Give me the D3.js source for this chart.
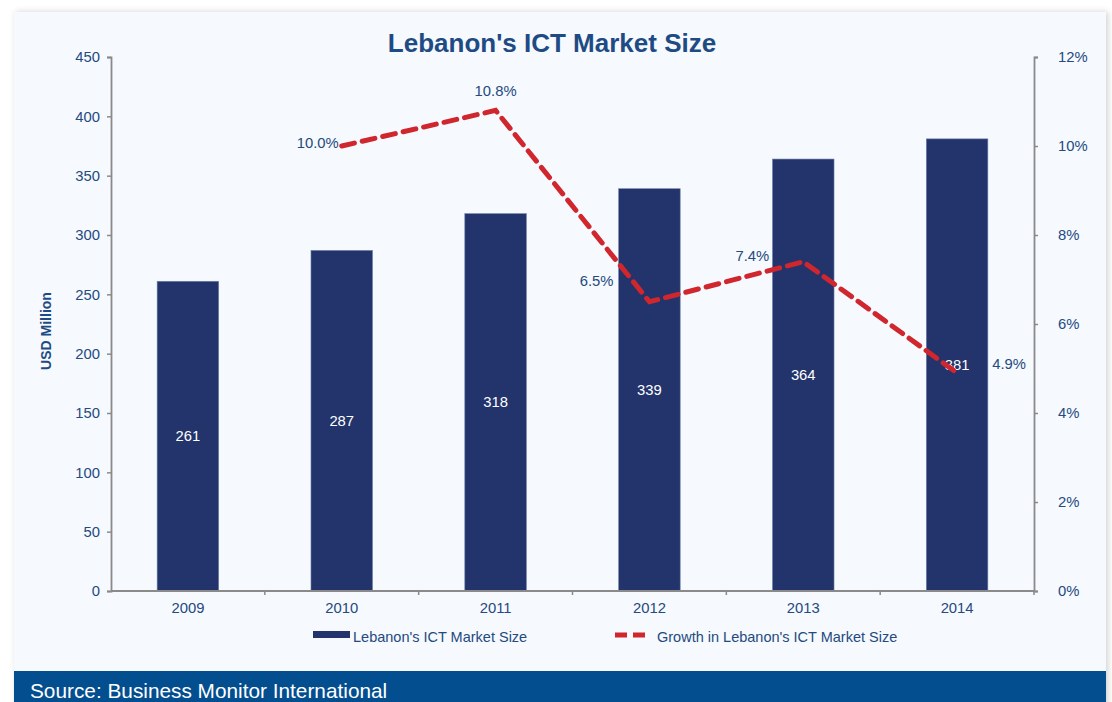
<!DOCTYPE html>
<html>
<head>
<meta charset="utf-8">
<script src="https://cdn.jsdelivr.net/npm/d3@7"></script>
<style>
  html, body { margin: 0; padding: 0; background: #ffffff; }
  svg { display: block; font-family: "Liberation Sans", Arial, sans-serif; }
</style>
</head>
<body>
<svg id="chart" width="1112" height="702"></svg>
<script>
const years = ["2009", "2010", "2011", "2012", "2013", "2014"];
const marketSize = [261, 287, 318, 339, 364, 381];
const growthYears = ["2010", "2011", "2012", "2013", "2014"];
const growth = [10.0, 10.8, 6.5, 7.4, 4.9];
const growthLabels = ["10.0%", "10.8%", "6.5%", "7.4%", "4.9%"];
const leftTicks = [0, 50, 100, 150, 200, 250, 300, 350, 400, 450];
const rightTicks = [0, 2, 4, 6, 8, 10, 12];

const svg = d3.select("#chart");
const textColor = "#244a80";
const barColor = "#22346b";
const lineColor = "#d0262d";
const axisColor = "#8a8a8a";
const fs = 14.8;

// panel with shadow
const defs = svg.append("defs");
const f = defs.append("filter").attr("id", "shadow").attr("x", "-5%").attr("y", "-5%").attr("width", "110%").attr("height", "110%");
f.append("feDropShadow").attr("dx", 2).attr("dy", 0).attr("stdDeviation", 3).attr("flood-color", "#000").attr("flood-opacity", 0.18);
svg.append("rect").attr("x", 14).attr("y", 12).attr("width", 1092).attr("height", 700)
  .attr("fill", "#f6f9fd").attr("filter", "url(#shadow)");

// source bar
svg.append("rect").attr("x", 14).attr("y", 671).attr("width", 1092).attr("height", 40).attr("fill", "#034e8f");
svg.append("text").attr("x", 30).attr("y", 698).attr("fill", "#ffffff")
  .attr("font-size", 20.8).text("Source: Business Monitor International");

// scales
const x = d3.scaleBand().domain(years).range([111, 1034]).paddingInner(0.6).paddingOuter(0.3);
const xb = d3.scaleBand().domain(years).range([111, 1034]);
const yL = d3.scaleLinear().domain([0, 450]).range([591, 57]);
const yR = d3.scaleLinear().domain([0, 12]).range([591, 57]);

// title
svg.append("text").attr("x", 552).attr("y", 52).attr("text-anchor", "middle")
  .attr("font-size", 26).attr("font-weight", "bold").attr("fill", "#1f4b85")
  .text("Lebanon's ICT Market Size");

// y axis title
svg.append("text").attr("transform", "translate(51,331) rotate(-90)")
  .attr("text-anchor", "middle").attr("font-size", 14).attr("font-weight", "bold")
  .attr("fill", "#1f4b85").text("USD Million");

// bars
svg.append("g").selectAll("rect").data(years).join("rect")
  .attr("x", d => x(d)).attr("width", x.bandwidth())
  .attr("y", (d, i) => yL(marketSize[i]))
  .attr("height", (d, i) => yL(0) - yL(marketSize[i]))
  .attr("fill", barColor).attr("stroke", "#6f7fa8").attr("stroke-width", 0.6);

// bar value labels
svg.append("g").selectAll("text").data(years).join("text")
  .attr("x", d => x(d) + x.bandwidth() / 2)
  .attr("y", (d, i) => (yL(marketSize[i]) + yL(0)) / 2 + 5)
  .attr("text-anchor", "middle").attr("fill", "#ffffff").attr("font-size", fs)
  .text((d, i) => marketSize[i]);

// left axis
const gL = svg.append("g").attr("transform", "translate(111,0)")
  .call(d3.axisLeft(yL).tickValues(leftTicks).tickSize(4).tickPadding(7));
// right axis
const gR = svg.append("g").attr("transform", "translate(1034,0)")
  .call(d3.axisRight(yR).tickValues(rightTicks).tickSize(4).tickPadding(20).tickFormat(d => d + "%"));
// bottom axis
const gB = svg.append("g").attr("transform", "translate(0,591)")
  .call(d3.axisBottom(x).tickSize(0).tickPadding(11));
[gL, gR, gB].forEach(g => {
  g.select(".domain").attr("stroke", axisColor).attr("stroke-width", 1.8);
  g.selectAll(".tick line").attr("stroke", axisColor).attr("stroke-width", 1.5);
  g.selectAll(".tick text").attr("fill", textColor).attr("font-size", fs)
    .attr("font-family", "Liberation Sans, Arial, sans-serif");
});
gB.select(".domain").attr("d", "M111,0H1034");
// category boundary ticks on x axis
svg.append("g").selectAll("line").data(years.slice(1).concat(["end"])).join("line")
  .attr("x1", d => d === "end" ? 1034 : xb(d)).attr("x2", d => d === "end" ? 1034 : xb(d))
  .attr("y1", 591).attr("y2", 595).attr("stroke", axisColor).attr("stroke-width", 1.5);

// growth line
const line = d3.line().x((d, i) => x(growthYears[i]) + x.bandwidth() / 2).y(d => yR(d));
svg.append("path").datum(growth).attr("d", line).attr("fill", "none")
  .attr("stroke", lineColor).attr("stroke-width", 5).attr("stroke-dasharray", "13,8")
  .attr("stroke-linecap", "round").attr("stroke-linejoin", "miter");

// growth labels
const labOff = [[-3, 2, "end"], [0, -14, "middle"], [-36, -16, "end"], [-34, -1, "end"], [52, -4, "middle"]];
svg.append("g").selectAll("text").data(growth).join("text")
  .attr("x", (d, i) => x(growthYears[i]) + x.bandwidth() / 2 + labOff[i][0])
  .attr("y", (d, i) => yR(d) + labOff[i][1])
  .attr("text-anchor", (d, i) => labOff[i][2])
  .attr("fill", textColor).attr("font-size", fs)
  .text((d, i) => growthLabels[i]);

// legend
svg.append("rect").attr("x", 313).attr("y", 631).attr("width", 37).attr("height", 7).attr("fill", barColor);
svg.append("text").attr("x", 353).attr("y", 642).attr("fill", textColor).attr("font-size", 14.5)
  .text("Lebanon's ICT Market Size");
svg.append("line").attr("x1", 615).attr("x2", 651).attr("y1", 635).attr("y2", 635)
  .attr("stroke", lineColor).attr("stroke-width", 5).attr("stroke-dasharray", "12,6");
svg.append("text").attr("x", 657).attr("y", 642).attr("fill", textColor).attr("font-size", 14.5)
  .text("Growth in Lebanon's ICT Market Size");
</script>
</body>
</html>
